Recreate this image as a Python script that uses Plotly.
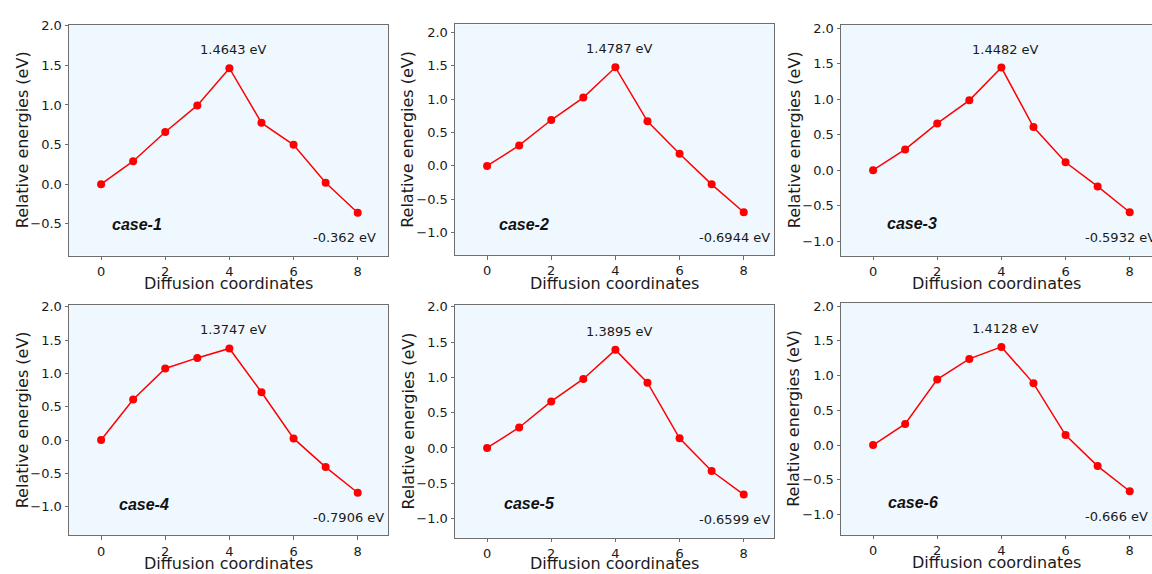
import plotly.graph_objects as go

# ---------------- data ----------------
coords = [0, 1, 2, 3, 4, 5, 6, 7, 8]
case_names = ["case-1", "case-2", "case-3", "case-4", "case-5", "case-6"]
case1 = [0.0, 0.290, 0.658, 0.994, 1.4643, 0.774, 0.497, 0.017, -0.362]
case2 = [0.0, 0.307, 0.688, 1.025, 1.4787, 0.668, 0.183, -0.277, -0.6944]
case3 = [0.0, 0.293, 0.660, 0.986, 1.4482, 0.609, 0.112, -0.228, -0.5932]
case4 = [0.0, 0.609, 1.074, 1.233, 1.3747, 0.718, 0.025, -0.406, -0.7906]
case5 = [0.0, 0.290, 0.659, 0.977, 1.3895, 0.925, 0.136, -0.327, -0.6599]
case6 = [0.0, 0.304, 0.945, 1.240, 1.4128, 0.888, 0.143, -0.304, -0.666]
peak_labels = ["1.4643 eV", "1.4787 eV", "1.4482 eV", "1.3747 eV", "1.3895 eV", "1.4128 eV"]
end_labels = ["-0.362 eV", "-0.6944 eV", "-0.5932 eV", "-0.7906 eV", "-0.6599 eV", "-0.666 eV"]
x_ticks = [0, 2, 4, 6, 8]
y_ticks = [-1.0, -0.5, 0.0, 0.5, 1.0, 1.5, 2.0]

series = [case1, case2, case3, case4, case5, case6]

# ---------------- layout config (pixels) ----------------
W, H = 1152, 574
# plot-area boxes in pixels: left, right, top, bottom
boxes = [
    (69, 388, 19.0, 252.3),
    (455, 774, 18.5, 252.0),
    (841, 1152, 19.0, 252.3),
    (69, 388, 302.3, 535.0),
    (455, 774, 302.3, 537.3),
    (841, 1152, 300.0, 534.3),
]
y_ranges = [
    (-0.903, 2.012),
    (-1.342, 2.124),
    (-1.205, 2.051),
    (-1.431, 2.025),
    (-1.271, 2.023),
    (-1.292, 2.047),
]
x_px_per_unit = 32.08
case_pos = [(0.128, 0.134), (0.131, 0.134), (0.14, 0.139),
            (0.15, 0.133), (0.146, 0.145), (0.145, 0.139)]

FONT = "DejaVu Sans"
TXT = "#1a1a1a"
SPINE = "#6e6e6e"

fig = go.Figure()
annotations = []

for i, ys in enumerate(series):
    k = i + 1
    xa = "x" if k == 1 else f"x{k}"
    ya = "y" if k == 1 else f"y{k}"
    left, right, top, bottom = boxes[i]
    x_right = -1 + (right - left) / x_px_per_unit

    fig.add_trace(go.Scatter(
        x=coords, y=ys, mode="lines+markers",
        line=dict(color="#ff0000", width=1.5),
        marker=dict(color="#ff0000", size=8),
        xaxis=xa, yaxis=ya, showlegend=False, hoverinfo="skip",
    ))

    xkey = "xaxis" if k == 1 else f"xaxis{k}"
    ykey = "yaxis" if k == 1 else f"yaxis{k}"
    fig.layout[xkey] = dict(
        domain=[left / W, right / W], anchor=ya,
        range=[-1, x_right], tickvals=x_ticks, ticks="outside", ticklen=3.5,
        tickwidth=0.8, tickcolor=SPINE, showgrid=False, zeroline=False,
        showline=True, linecolor=SPINE, linewidth=1, mirror=True,
        tickfont=dict(family=FONT, size=13, color=TXT),
    )
    fig.layout[ykey] = dict(
        domain=[1 - bottom / H, 1 - top / H], anchor=xa,
        range=list(y_ranges[i]), tickvals=y_ticks, tickformat=".1f",
        ticks="outside", ticklen=3.5, tickwidth=0.8, tickcolor=SPINE,
        showgrid=False, zeroline=False, showline=True, linecolor=SPINE,
        linewidth=1, mirror=(i % 3 != 2),
        tickfont=dict(family=FONT, size=13, color=TXT),
    )

    # peak and end-point labels
    annotations.append(dict(
        x=3.03, y=ys[4], xref=xa, yref=ya, text=peak_labels[i],
        showarrow=False, xanchor="left", yanchor="middle", yshift=18.5,
        font=dict(family=FONT, size=13, color=TXT),
    ))
    annotations.append(dict(
        x=6.53, y=ys[8], xref=xa, yref=ya, text=end_labels[i],
        showarrow=False, xanchor="left", yanchor="middle", yshift=-25,
        font=dict(family=FONT, size=13, color=TXT),
    ))
    # case label
    cx, cy = case_pos[i]
    annotations.append(dict(
        x=cx, y=cy, xref=f"{xa} domain", yref=f"{ya} domain",
        text=f"<b><i>{case_names[i]}</i></b>",
        showarrow=False, xanchor="left", yanchor="middle",
        font=dict(family="Liberation Sans", size=16, color="#111111"),
    ))
    # axis titles
    xt_center = (left + min(right, left + 319)) / 2
    xt_y = min(bottom + 28.5, 563.5)
    annotations.append(dict(
        x=xt_center / W, y=1 - xt_y / H, xref="paper", yref="paper",
        text="Diffusion coordinates", showarrow=False,
        xanchor="center", yanchor="middle",
        font=dict(family=FONT, size=16, color=TXT),
    ))
    annotations.append(dict(
        x=(left - 47) / W, y=1 - (top + bottom) / 2 / H, xref="paper", yref="paper",
        text="Relative energies (eV)", showarrow=False, textangle=-90,
        xanchor="center", yanchor="middle",
        font=dict(family=FONT, size=16, color=TXT),
    ))

fig.update_layout(
    width=W, height=H,
    margin=dict(l=0, r=0, t=0, b=0),
    paper_bgcolor="white",
    plot_bgcolor="#f0f8ff",
    annotations=annotations,
    showlegend=False,
)

fig.write_html("out.html")
